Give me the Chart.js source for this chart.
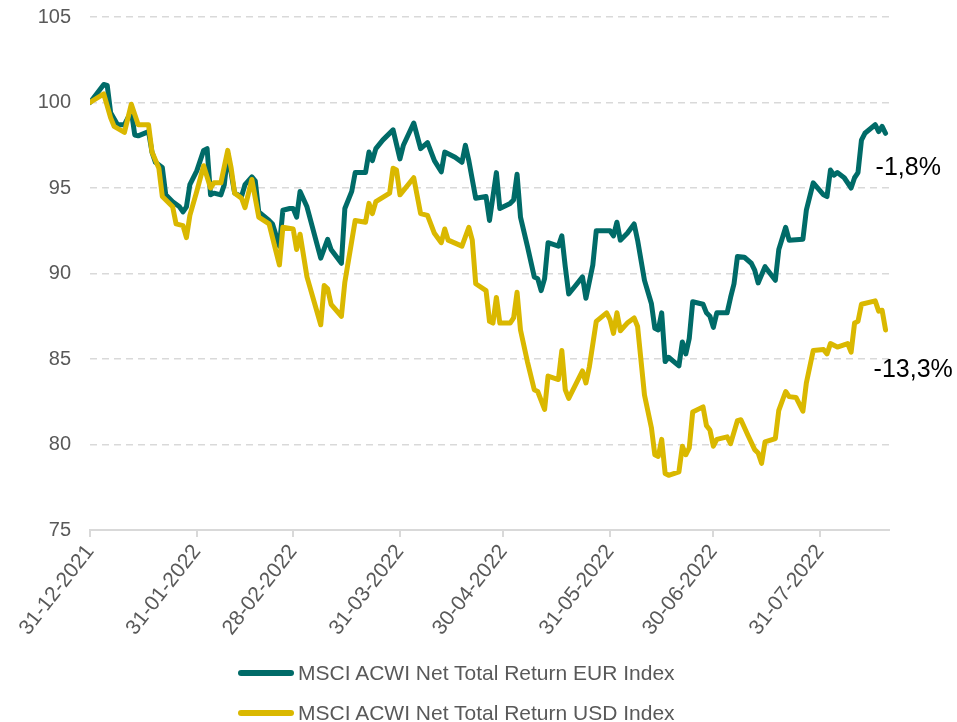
<!DOCTYPE html>
<html>
<head>
<meta charset="utf-8">
<script src="https://cdn.jsdelivr.net/npm/chart.js@4.4.1/dist/chart.umd.min.js"></script>
<style>
    html, body { margin: 0; padding: 0; background: #fff; overflow: hidden; }
    #wrap { position: relative; width: 957px; height: 722px; }
    #legend { position: absolute; left: 238px; top: 653px; font-family: "Liberation Sans", Arial, sans-serif; font-size: 21px; color: #595959; }
    .legend-row { display: flex; align-items: center; height: 40px; white-space: nowrap; }
    .legend-mark { width: 56px; height: 6px; border-radius: 3px; margin-right: 4px; }
</style>
</head>
<body>
<div id="wrap">
    <canvas id="chart" width="957" height="722"></canvas>
    <div id="legend"></div>
</div>
<script>
// days counted from 31-12-2021
const tickDays = [0, 31, 59, 90, 120, 151, 181, 212];
const tickLabels = ["31-12-2021", "31-01-2022", "28-02-2022", "31-03-2022", "30-04-2022", "31-05-2022", "30-06-2022", "31-07-2022"];

const eurDays = [0, 4, 5, 6, 8, 10, 12, 13, 14, 17, 18, 19, 21, 22, 24, 26, 27, 28, 29, 31,
    33, 34, 35, 36, 38, 39, 40, 42, 44, 45, 47, 48, 49, 52, 53, 55, 56, 58, 59, 60,
    61, 63, 67, 69, 70, 73, 74, 76, 77, 80, 81, 82, 83, 85, 88, 90, 91, 94, 96, 98,
    100, 102, 103, 106, 108, 109, 110, 112, 115, 116, 118, 119, 122, 123, 124, 125, 127, 129, 130, 131,
    132, 133, 136, 137, 138, 139, 141, 143, 144, 146, 147, 151, 152, 153, 154, 156, 158, 159, 161, 163,
    164, 165, 166, 167, 168, 171, 172, 173, 174, 175, 178, 179, 180, 181, 182, 185, 186, 187, 188, 190,
    192, 193, 194, 196, 199, 200, 202, 203, 207, 208, 210, 213, 214, 215, 216, 217, 219, 221, 222, 223,
    224, 225, 228, 229, 230, 231];
const eurValues = [100.0, 101.05, 101.0, 99.4, 98.7, 98.7, 99.5, 98.1, 98.05, 98.3, 97.1, 96.5, 96.2, 94.6, 94.2, 93.9, 93.6, 93.9, 95.2, 96.0,
    97.2, 97.3, 94.6, 94.7, 94.6, 95.2, 97.0, 94.7, 94.5, 95.2, 95.65, 95.4, 93.6, 93.1, 92.9, 91.6, 93.7, 93.8, 93.8, 93.3,
    94.8, 93.9, 90.9, 92.0, 91.4, 90.6, 93.8, 94.8, 95.9, 95.9, 97.1, 96.6, 97.3, 97.8, 98.4, 96.7, 97.5, 98.8, 97.3, 97.65,
    96.6, 95.95, 97.1, 96.8, 96.5, 97.5, 96.6, 94.4, 94.5, 93.1, 95.9, 93.8, 94.1, 94.3, 95.8, 93.3, 91.6, 89.8, 89.7, 89.0,
    89.7, 91.8, 91.6, 92.2, 90.4, 88.8, 89.3, 89.8, 88.55, 90.5, 92.5, 92.5, 92.2, 93.0, 91.95, 92.35, 92.9, 91.95, 89.6, 88.25,
    86.8, 86.7, 87.7, 84.85, 85.1, 84.6, 86.0, 85.3, 86.2, 88.35, 88.2, 87.7, 87.5, 86.85, 87.7, 87.7, 88.6, 89.4, 91.0, 90.95,
    90.6, 90.2, 89.45, 90.4, 89.6, 91.4, 92.7, 91.95, 92.0, 93.7, 95.3, 94.6, 94.5, 96.05, 95.75, 95.9, 95.6, 95.0, 95.6, 95.9,
    97.8, 98.2, 98.7, 98.3, 98.6, 98.2];

const usdDays = [0, 4, 6, 7, 10, 12, 14, 17, 18, 20, 21, 24, 25, 27, 28, 29, 31, 33, 35, 36,
    38, 40, 41, 42, 44, 45, 47, 49, 52, 54, 55, 56, 59, 60, 61, 63, 67, 68, 69, 70,
    73, 74, 76, 77, 80, 81, 82, 83, 87, 88, 89, 90, 94, 96, 98, 100, 102, 103, 104, 108,
    110, 111, 112, 115, 116, 117, 118, 119, 122, 123, 124, 125, 127, 129, 130, 132, 133, 136, 137, 138,
    139, 141, 143, 144, 145, 147, 150, 151, 152, 153, 154, 156, 158, 159, 161, 163, 164, 165, 166, 167,
    168, 171, 172, 173, 174, 175, 178, 179, 180, 181, 182, 185, 186, 188, 189, 191, 193, 194, 195, 196,
    199, 200, 202, 203, 205, 207, 208, 210, 213, 214, 215, 217, 220, 221, 222, 223, 224, 228, 229, 230,
    231];
const usdValues = [100.0, 100.5, 99.1, 98.6, 98.25, 99.9, 98.7, 98.7, 97.1, 96.15, 94.5, 93.9, 92.9, 92.8, 92.1, 93.4, 94.8, 96.3, 95.0, 95.3,
    95.3, 97.2, 96.15, 94.7, 94.4, 93.85, 95.5, 93.3, 92.9, 91.3, 90.5, 92.7, 92.6, 91.4, 92.3, 89.8, 87.0, 89.3, 89.1, 88.2,
    87.5, 89.5, 91.9, 93.1, 93.0, 94.1, 93.5, 94.2, 94.7, 96.15, 96.05, 94.6, 95.6, 93.5, 93.4, 92.35, 91.8, 92.6, 91.95, 91.6,
    92.7, 91.95, 89.4, 89.0, 87.2, 87.1, 88.6, 87.1, 87.1, 87.4, 88.9, 86.7, 84.85, 83.2, 83.1, 82.05, 84.0, 83.8, 85.5, 83.2,
    82.7, 83.5, 84.3, 83.6, 84.55, 87.2, 87.7, 87.3, 86.5, 87.7, 86.65, 87.1, 87.4, 86.9, 82.9, 81.0, 79.4, 79.3, 80.3, 78.3,
    78.2, 78.4, 79.9, 79.4, 79.8, 81.9, 82.2, 81.1, 80.85, 79.9, 80.3, 80.45, 80.05, 81.4, 81.45, 80.55, 79.7, 79.5, 78.9, 80.15,
    80.35, 82.0, 83.1, 82.8, 82.75, 81.95, 83.6, 85.5, 85.55, 85.3, 85.9, 85.7, 85.9, 85.4, 87.1, 87.2, 88.2, 88.4, 87.8, 87.85,
    86.7];

const seriesNames = ["MSCI ACWI Net Total Return EUR Index", "MSCI ACWI Net Total Return USD Index"];
const seriesColors = ["#006b68", "#dab800"];
const endLabels = ["-1,8%", "-13,3%"];

const FONT = '"Liberation Sans", Arial, sans-serif';

function toPoints(days, values) {
    return days.map((d, i) => ({ x: d, y: values[i] }));
}

// percentage labels next to the last point of each line
const endLabelPlugin = {
    id: "endLabels",
    afterDatasetsDraw(chart) {
        const { ctx } = chart;
        const xs = chart.scales.x, ys = chart.scales.y;
        const offsets = [[-10, 35], [-12, 40]];
        ctx.save();
        ctx.font = "25px " + FONT;
        ctx.fillStyle = "#000";
        ctx.textBaseline = "middle";
        chart.data.datasets.forEach((ds, i) => {
            const last = ds.data[ds.data.length - 1];
            ctx.fillText(endLabels[i], xs.getPixelForValue(last.x) + offsets[i][0], ys.getPixelForValue(last.y) + offsets[i][1]);
        });
        ctx.restore();
    }
};

const chart = new Chart(document.getElementById("chart"), {
    type: "line",
    data: {
        datasets: [
            {
                label: seriesNames[0],
                data: toPoints(eurDays, eurValues),
                borderColor: seriesColors[0],
                backgroundColor: seriesColors[0],
                borderWidth: 5,
                pointRadius: 0,
                tension: 0,
                borderJoinStyle: "round",
                borderCapStyle: "round",
                order: 1
            },
            {
                label: seriesNames[1],
                data: toPoints(usdDays, usdValues),
                borderColor: seriesColors[1],
                backgroundColor: seriesColors[1],
                borderWidth: 5,
                pointRadius: 0,
                tension: 0,
                borderJoinStyle: "round",
                borderCapStyle: "round",
                order: 0
            }
        ]
    },
    options: {
        responsive: false,
        animation: false,
        devicePixelRatio: 1,
        layout: { padding: { left: 0, right: 68, top: 0, bottom: 0 } },
        plugins: {
            legend: { display: false },
            tooltip: { enabled: false }
        },
        scales: {
            x: {
                type: "linear",
                min: 0,
                max: 232,
                afterBuildTicks: (scale) => {
                    scale.ticks = tickDays.map(v => ({ value: v }));
                },
                // fixed room for the slanted date labels and the legend below
                afterFit: (scale) => {
                    scale.paddingLeft = 90;
                    scale.height = 192;
                },
                grid: { drawOnChartArea: false, drawTicks: true, tickLength: 7, color: "#d9d9d9", lineWidth: 2 },
                border: { display: true, color: "#d9d9d9", width: 2 },
                ticks: {
                    autoSkip: false,
                    minRotation: 52,
                    maxRotation: 52,
                    padding: 3,
                    color: "#595959",
                    font: { family: FONT, size: 21 },
                    callback: (value) => tickLabels[tickDays.indexOf(value)]
                }
            },
            y: {
                min: 75,
                max: 105,
                afterFit: (scale) => {
                    scale.paddingTop = 17;
                },
                grid: { color: "#d9d9d9", lineWidth: 1.5, drawTicks: false },
                border: { display: false, dash: [7, 5] },
                ticks: {
                    stepSize: 5,
                    padding: 19,
                    color: "#595959",
                    font: { family: FONT, size: 20 }
                }
            }
        }
    },
    plugins: [endLabelPlugin]
});

// legend below the chart, one series per row
const legendEl = document.getElementById("legend");
chart.data.datasets.forEach((ds) => {
    const row = document.createElement("div");
    row.className = "legend-row";
    row.innerHTML = `<span class="legend-mark" style="background:${ds.borderColor}"></span><span>${ds.label}</span>`;
    legendEl.appendChild(row);
});
</script>
</body>
</html>
